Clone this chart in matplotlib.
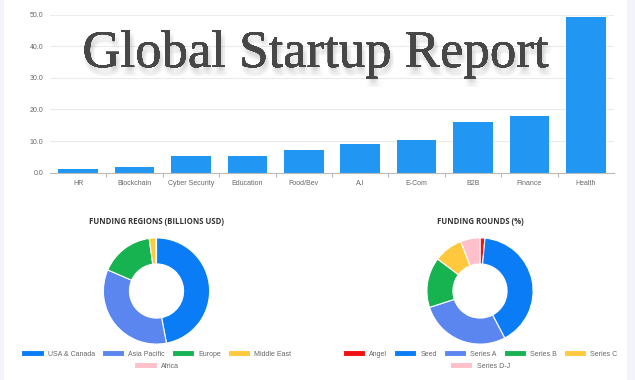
import numpy as np
import matplotlib
matplotlib.use("Agg")
import matplotlib.pyplot as plt
import matplotlib.patheffects as pe
from matplotlib.patches import Rectangle

# sector funding (billions USD)
sectors = ["HR", "Blockchain", "Cyber Security", "Education", "Food/Bev",
           "A.I", "E-Com", "B2B", "Finance", "Health"]
sector_vals = [1.3, 1.9, 5.3, 5.2, 7.3, 9.0, 10.4, 15.9, 17.9, 49.2]

regions = ["USA & Canada", "Asia Pacific", "Europe", "Middle East", "Africa"]
region_vals = [47.0, 34.5, 16.3, 2.0, 0.2]
region_cols = ["#0a7cf6", "#5b85ef", "#17b350", "#ffc83d", "#ffc0cb"]

rounds = ["Angel", "Seed", "Series A", "Series B", "Series C", "Series D-J"]
round_vals = [1.5, 40.8, 27.7, 15.3, 8.8, 5.9]
round_cols = ["#f21111", "#0a7cf6", "#5b85ef", "#17b350", "#ffc83d", "#ffc0cb"]

plt.rcParams['font.family'] = ['Liberation Sans', 'DejaVu Sans']

W, H = 635, 380
fig = plt.figure(figsize=(W / 100, H / 100), dpi=100, facecolor='#f3f4fa')
fig.patches.append(Rectangle((4 / W, 0), 623 / W, 1, transform=fig.transFigure,
                             facecolor='white', edgecolor='none', zorder=-10))

# bar chart
ax = fig.add_axes([50 / W, (H - 172.7) / H, 564 / W, 158 / H])
ax.set_facecolor('none')
x = np.arange(len(sectors))
ax.bar(x, sector_vals, width=0.70, color='#2196f3', zorder=2)
ax.set_xlim(-0.5, len(sectors) - 0.5)
ax.set_ylim(0, 50)
ax.set_yticks(np.arange(0, 51, 10))
ax.set_yticklabels(["%.1f" % v for v in np.arange(0, 51, 10)])
ax.set_xticks(x)
ax.set_xticklabels(sectors)
ax.set_xticks(np.arange(0.5, len(sectors) - 1, 1), minor=True)
ax.tick_params(axis='x', which='major', length=0, pad=5, labelsize=5, labelcolor='#666666')
ax.tick_params(axis='x', which='minor', length=3, color='#bbbbbb', width=0.8)
ax.tick_params(axis='y', length=0, pad=5, labelsize=5, labelcolor='#666666')
ax.grid(axis='y', color='#ebebeb', linewidth=0.8, zorder=0)
for s in ['top', 'right', 'left']:
    ax.spines[s].set_visible(False)
ax.spines['bottom'].set_color('#bbbbbb')
ax.spines['bottom'].set_linewidth(0.8)

# big title with a soft (fake blurred) shadow
offs = [(dx, dy) for dx in (0, 1.5, 3) for dy in (-1.5, -3, -4.5, -6)]
shadow = [pe.withSimplePatchShadow(offset=o, shadow_rgbFace='#999999', alpha=0.045)
          for o in offs]
fig.text(315 / W, (H - 67) / H, "Global Startup Report", ha='center', va='baseline',
         fontsize=38, color='#474747', family='Liberation Serif',
         path_effects=shadow + [pe.Normal()])


def donut(cx, vals, cols, labels, title):
    a = fig.add_axes([(cx - 60) / W, (H - 291 - 60) / H, 120 / W, 120 / H])
    wedges, _ = a.pie(vals, colors=cols, startangle=90, counterclock=False,
                      wedgeprops=dict(width=0.49, edgecolor='white', linewidth=0.8))
    a.set_xlim(-1.13, 1.13)
    a.set_ylim(-1.13, 1.13)
    a.set_aspect('equal')
    a.axis('off')
    fig.text(cx / W, (H - 222) / H, title, ha='center', va='center', fontsize=5.6,
             fontweight='bold', color='#333333', family='Open Sans')
    kw = dict(frameon=False, fontsize=5, handlelength=3.2, handleheight=0.9,
              handletextpad=0.6, columnspacing=1.0, borderpad=0, borderaxespad=0)
    n = 4 if len(labels) == 5 else 5
    l1 = fig.legend(wedges[:n], labels[:n], ncol=n, loc='center',
                    bbox_to_anchor=(cx / W, (H - 354) / H), **kw)
    l2 = fig.legend(wedges[n:], labels[n:], ncol=1, loc='center',
                    bbox_to_anchor=(cx / W, (H - 366) / H), **kw)
    for lg in (l1, l2):
        for t in lg.get_texts():
            t.set_color('#666666')


donut(156.5, region_vals, region_cols, regions, "FUNDING REGIONS (BILLIONS USD)")
donut(480, round_vals, round_cols, rounds, "FUNDING ROUNDS (%)")

fig.savefig("out.png", dpi=100, facecolor=fig.get_facecolor())
